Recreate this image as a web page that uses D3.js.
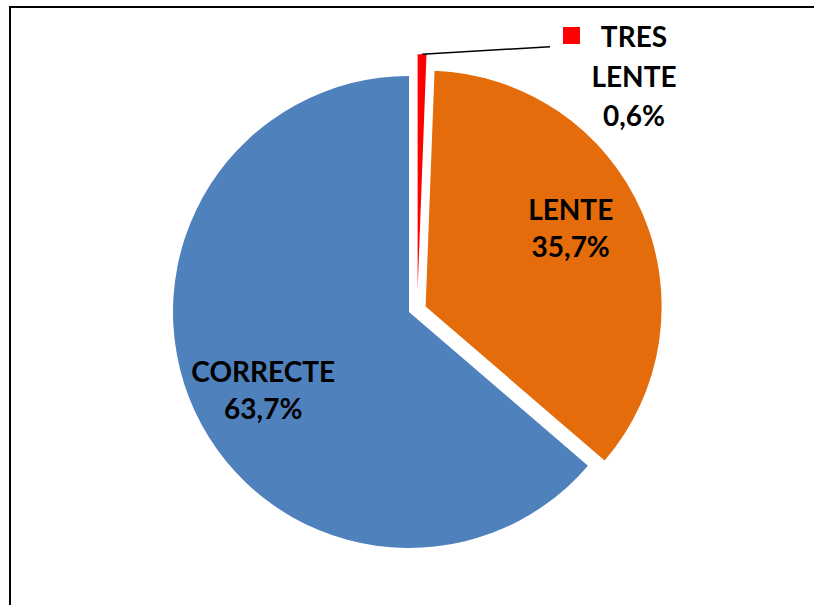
<!DOCTYPE html>
<html>
<head>
<meta charset="utf-8">
<script src="https://cdn.jsdelivr.net/npm/d3@7"></script>
<style>
  html, body { margin: 0; padding: 0; background: #fff; }
  svg { display: block; }
  text { font-family: Lato, "Open Sans", sans-serif; font-weight: bold; fill: #000; }
</style>
</head>
<body>
<div id="vis"></div>
<script>
// values, clockwise from 12 o'clock
const categories = ['TRES LENTE', 'LENTE', 'CORRECTE'];
const shares = [0.6, 35.7, 63.7];
const percentLabels = ['0,6%', '35,7%', '63,7%'];

const colors = ['#ff0000', '#e46c0a', '#4f81bd'];

// explode offsets (px, direction in degrees clockwise from top), blue stays put
const explode = [
  { dist: 23.5, angle: 21.5 },
  { dist: 17.5, angle: 72 },
  { dist: 0, angle: 0 }
];
// label placement as fraction of radius and angle tweak from the bisector
const labelPos = [
  null,
  { r: 0.70, dAngle: -5 },
  { r: 0.70, dAngle: -3.4 }
];

const width = 814;
const height = 605;
const cx = 409;
const cy = 312;
const radius = 236;
const fontSize = 28;

const svg = d3.select('#vis').append('svg')
  .attr('width', width)
  .attr('height', height);

// frame (only top and left edges are visible in the shot)
svg.append('path')
  .attr('d', 'M10,' + height + 'V7H' + width)
  .attr('fill', 'none')
  .attr('stroke', '#000')
  .attr('stroke-width', 2);

const pie = d3.pie().sort(null).value(d => d);
const arcs = pie(shares);
const arc = d3.arc().innerRadius(0).outerRadius(radius);

const rad = deg => deg * Math.PI / 180;
function offsetOf(i) {
  const e = explode[i];
  return [e.dist * Math.sin(rad(e.angle)), -e.dist * Math.cos(rad(e.angle))];
}

const g = svg.append('g').attr('transform', 'translate(' + cx + ',' + cy + ')');

g.selectAll('path.slice')
  .data(arcs)
  .enter().append('path')
  .attr('class', 'slice')
  .attr('transform', (d, i) => 'translate(' + offsetOf(i) + ')')
  .attr('d', arc)
  .attr('fill', (d, i) => colors[i]);

// inside labels
arcs.forEach((d, i) => {
  const lp = labelPos[i];
  if (!lp) return;
  const off = offsetOf(i);
  const a = (d.startAngle + d.endAngle) / 2 + rad(lp.dAngle);
  const x = off[0] + lp.r * radius * Math.sin(a);
  const y = off[1] - lp.r * radius * Math.cos(a);
  const t = g.append('text')
    .attr('text-anchor', 'middle')
    .attr('font-size', fontSize);
  t.append('tspan').attr('x', x).attr('y', y - 8).text(categories[i]);
  t.append('tspan').attr('x', x).attr('y', y + 29.5).text(percentLabels[i]);
});

// small slice: outside label with leader line and legend key
const small = arcs[0];
const smallOff = offsetOf(0);
const smallMid = (small.startAngle + small.endAngle) / 2;
const lx0 = smallOff[0] + radius * Math.sin(smallMid);
const ly0 = smallOff[1] - radius * Math.cos(smallMid);
const labelX = 634 - cx;
const labelY = 47 - cy;

g.append('path')
  .attr('d', 'M' + lx0 + ',' + ly0 + 'L' + (labelX - 84) + ',' + (labelY - 0.3))
  .attr('fill', 'none')
  .attr('stroke', '#000')
  .attr('stroke-width', 1.5);

g.append('rect')
  .attr('x', labelX - 71)
  .attr('y', labelY - 20)
  .attr('width', 17)
  .attr('height', 17)
  .attr('fill', colors[0]);

const smallText = g.append('text')
  .attr('text-anchor', 'middle')
  .attr('font-size', fontSize);
categories[0].split(' ').concat([percentLabels[0]]).forEach((s, k) => {
  smallText.append('tspan')
    .attr('x', labelX)
    .attr('y', labelY + k * 39.5)
    .text(s);
});
</script>
</body>
</html>
